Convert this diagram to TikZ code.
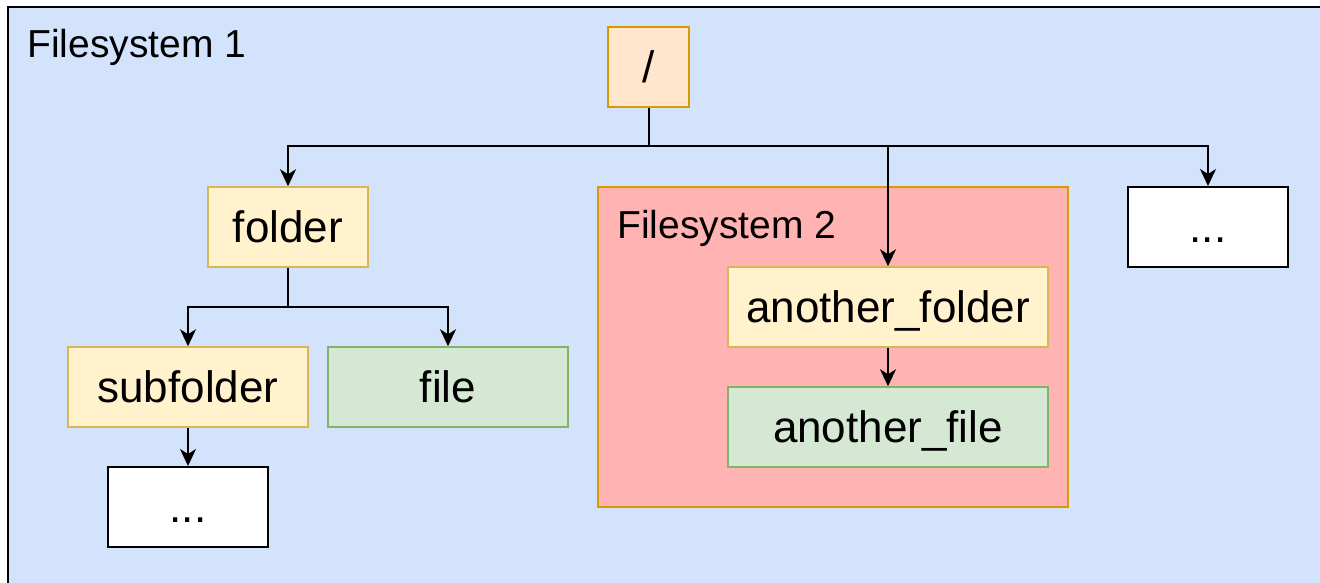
\documentclass[tikz,border=0pt]{standalone}
\usepackage{fontspec}
\setmainfont{Liberation Sans}
\usetikzlibrary{arrows.meta}
\definecolor{bgblue}{HTML}{D4E3FC}
\definecolor{orfill}{HTML}{FFE6CC}
\definecolor{ordraw}{HTML}{D79B00}
\definecolor{yfill}{HTML}{FFF2CC}
\definecolor{ydraw}{HTML}{D6B656}
\definecolor{gfill}{HTML}{D5E8D4}
\definecolor{gdraw}{HTML}{82B366}
\definecolor{pfill}{HTML}{FFB3B3}
\tikzset{
  box/.style={draw, line width=1.5pt, minimum width=160pt, minimum height=80pt, inner sep=0pt, text height=31.5pt, text depth=0pt, font=\fontsize{44}{48}\selectfont},
  foldbox/.style={box, fill=yfill, draw=ydraw},
  filebox/.style={box, fill=gfill, draw=gdraw},
  morebox/.style={box, fill=white, draw=black, line width=2pt},
  conn/.style={line width=2pt, -{Stealth[length=17pt,width=16pt,inset=5pt]}},
  title/.style={anchor=west, inner sep=0pt, text height=28pt, text depth=0pt, font=\fontsize{39}{44}\selectfont},
}
\begin{document}
\begin{tikzpicture}[x=1pt,y=-1pt]
\useasboundingbox (0,0) rectangle (1320,582);
\draw[fill=bgblue, line width=2.5pt] (8,7) rectangle (1340,600);
\node[title] (fs1) at (27,43) {Filesystem 1};
\node[box, fill=orfill, draw=ordraw, minimum width=81pt, minimum height=80pt] (root) at (648.5,67) {/};
\draw[fill=pfill, draw=ordraw, line width=1.5pt] (598,187) rectangle (1068,507);
\node[title] (fs2) at (617,224) {Filesystem 2};
\node[foldbox] (folder) at (288,227) {folder};
\node[morebox] (more1) at (1208,227) {...};
\node[foldbox, minimum width=320pt] (afolder) at (888,307) {another\_folder};
\node[filebox, minimum width=320pt] (afile) at (888,427) {another\_file};
\node[foldbox, minimum width=240pt] (sub) at (188,387) {subfolder};
\node[filebox, minimum width=240pt] (file) at (448,387) {file};
\node[morebox] (more2) at (188,507) {...};
\coordinate (j1) at (648.5,146);
\coordinate (j2) at (288,307);
\draw[conn] (root.south) -- (j1) -| (folder.north);
\draw[conn] (j1) -| (afolder.north);
\draw[conn] (j1) -| (more1.north);
\draw[conn] (folder.south) -- (j2) -| (sub.north);
\draw[conn] (j2) -| (file.north);
\draw[conn] (sub.south) -- (more2.north);
\draw[conn] (afolder.south) -- (afile.north);
\end{tikzpicture}
\end{document}
